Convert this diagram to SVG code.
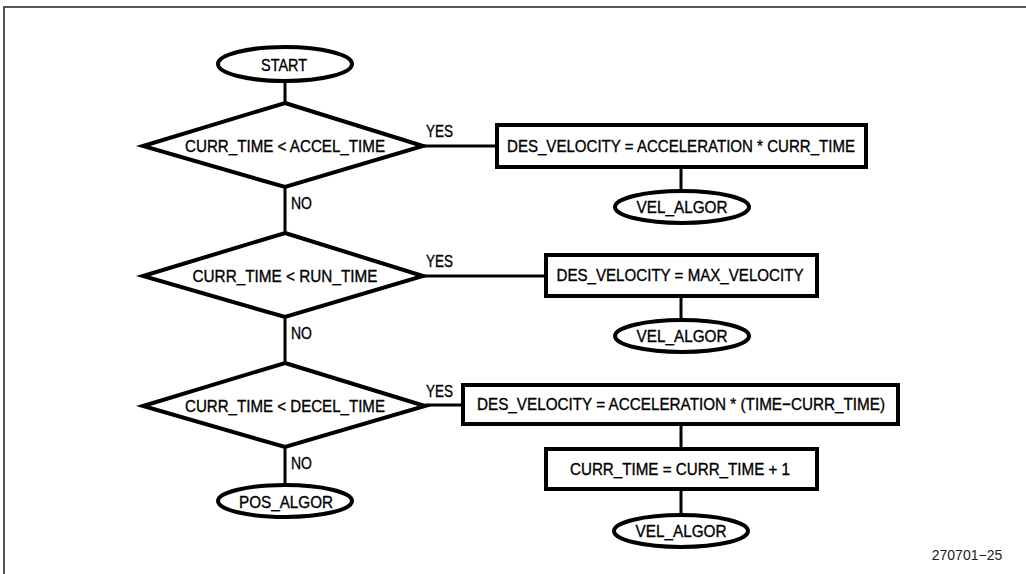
<svg xmlns="http://www.w3.org/2000/svg" width="1026" height="574" viewBox="0 0 1026 574">
<style>
.s{fill:#fff;stroke:#000;stroke-width:4;stroke-linejoin:miter}
.c{stroke:#000;stroke-width:3;fill:none}
.t{font-family:"Liberation Sans",Arial,sans-serif;font-size:17px;fill:#000;stroke:#000;stroke-width:0.35;text-anchor:middle}
.l{font-family:"Liberation Sans",Arial,sans-serif;font-size:17px;fill:#000;stroke:#000;stroke-width:0.35}
</style>
<rect width="1026" height="574" fill="#fff"/>
<path d="M4,574 V7 H1026" fill="none" stroke="#555" stroke-width="2"/>
<g id="connectors">
<line class="c" x1="285" y1="82" x2="285" y2="103"/>
<line class="c" x1="285" y1="187" x2="285" y2="233"/>
<line class="c" x1="285" y1="317" x2="285" y2="363"/>
<line class="c" x1="285" y1="447" x2="285" y2="485"/>
<line class="c" x1="423" y1="146" x2="497" y2="146"/>
<line class="c" x1="423" y1="276" x2="546" y2="276"/>
<line class="c" x1="425" y1="405" x2="463" y2="405"/>
<line class="c" x1="681" y1="167" x2="681" y2="191"/>
<line class="c" x1="681" y1="296" x2="681" y2="320"/>
<line class="c" x1="681" y1="424" x2="681" y2="449"/>
<line class="c" x1="681" y1="489" x2="681" y2="515"/>
<text class="l" x="291" y="209" textLength="21" lengthAdjust="spacingAndGlyphs">NO</text>
<text class="l" x="291" y="339" textLength="21" lengthAdjust="spacingAndGlyphs">NO</text>
<text class="l" x="291" y="469" textLength="21" lengthAdjust="spacingAndGlyphs">NO</text>
<text class="l" x="426" y="137" textLength="27" lengthAdjust="spacingAndGlyphs">YES</text>
<text class="l" x="426" y="267" textLength="27" lengthAdjust="spacingAndGlyphs">YES</text>
<text class="l" x="426" y="397" textLength="27" lengthAdjust="spacingAndGlyphs">YES</text>
</g>
<g id="start">
<ellipse class="s" cx="285" cy="64" rx="67" ry="17"/>
<text class="t" x="284" y="71" textLength="46" lengthAdjust="spacingAndGlyphs">START</text>
</g>
<g id="dec1">
<polygon class="s" points="285,103 423,146 285,187 143,146"/>
<text class="t" x="285" y="152" textLength="200" lengthAdjust="spacingAndGlyphs">CURR_TIME &lt; ACCEL_TIME</text>
</g>
<g id="dec2">
<polygon class="s" points="285,233 423,276 285,317 143,276"/>
<text class="t" x="285" y="282" textLength="185" lengthAdjust="spacingAndGlyphs">CURR_TIME &lt; RUN_TIME</text>
</g>
<g id="dec3">
<polygon class="s" points="285,363 425,406 285,447 143,406"/>
<text class="t" x="285" y="412" textLength="200" lengthAdjust="spacingAndGlyphs">CURR_TIME &lt; DECEL_TIME</text>
</g>
<g id="pos_algor">
<ellipse class="s" cx="285" cy="501" rx="67" ry="16"/>
<text class="t" x="286" y="508" textLength="94" lengthAdjust="spacingAndGlyphs">POS_ALGOR</text>
</g>
<g id="box1">
<rect class="s" x="497" y="125" width="369" height="42"/>
<text class="t" x="681" y="152" textLength="348" lengthAdjust="spacingAndGlyphs">DES_VELOCITY = ACCELERATION * CURR_TIME</text>
</g>
<g id="vel1">
<ellipse class="s" cx="682" cy="207" rx="67" ry="16"/>
<text class="t" x="682" y="213" textLength="91" lengthAdjust="spacingAndGlyphs">VEL_ALGOR</text>
</g>
<g id="box2">
<rect class="s" x="546" y="255" width="271" height="41"/>
<text class="t" x="680" y="281" textLength="247" lengthAdjust="spacingAndGlyphs">DES_VELOCITY = MAX_VELOCITY</text>
</g>
<g id="vel2">
<ellipse class="s" cx="682" cy="336" rx="67" ry="16"/>
<text class="t" x="682" y="342" textLength="91" lengthAdjust="spacingAndGlyphs">VEL_ALGOR</text>
</g>
<g id="box3">
<rect class="s" x="463" y="385" width="435" height="39"/>
<text class="t" x="681" y="410" textLength="408" lengthAdjust="spacingAndGlyphs">DES_VELOCITY = ACCELERATION * (TIME−CURR_TIME)</text>
</g>
<g id="box4">
<rect class="s" x="546" y="449" width="271" height="40"/>
<text class="t" x="680" y="475" textLength="220" lengthAdjust="spacingAndGlyphs">CURR_TIME = CURR_TIME + 1</text>
</g>
<g id="vel3">
<ellipse class="s" cx="681" cy="531" rx="67" ry="16"/>
<text class="t" x="681" y="537" textLength="91" lengthAdjust="spacingAndGlyphs">VEL_ALGOR</text>
</g>
<text x="967" y="560" font-family="'Liberation Sans',Arial,sans-serif" font-size="14" text-anchor="middle" fill="#222">270701−25</text>
</svg>
